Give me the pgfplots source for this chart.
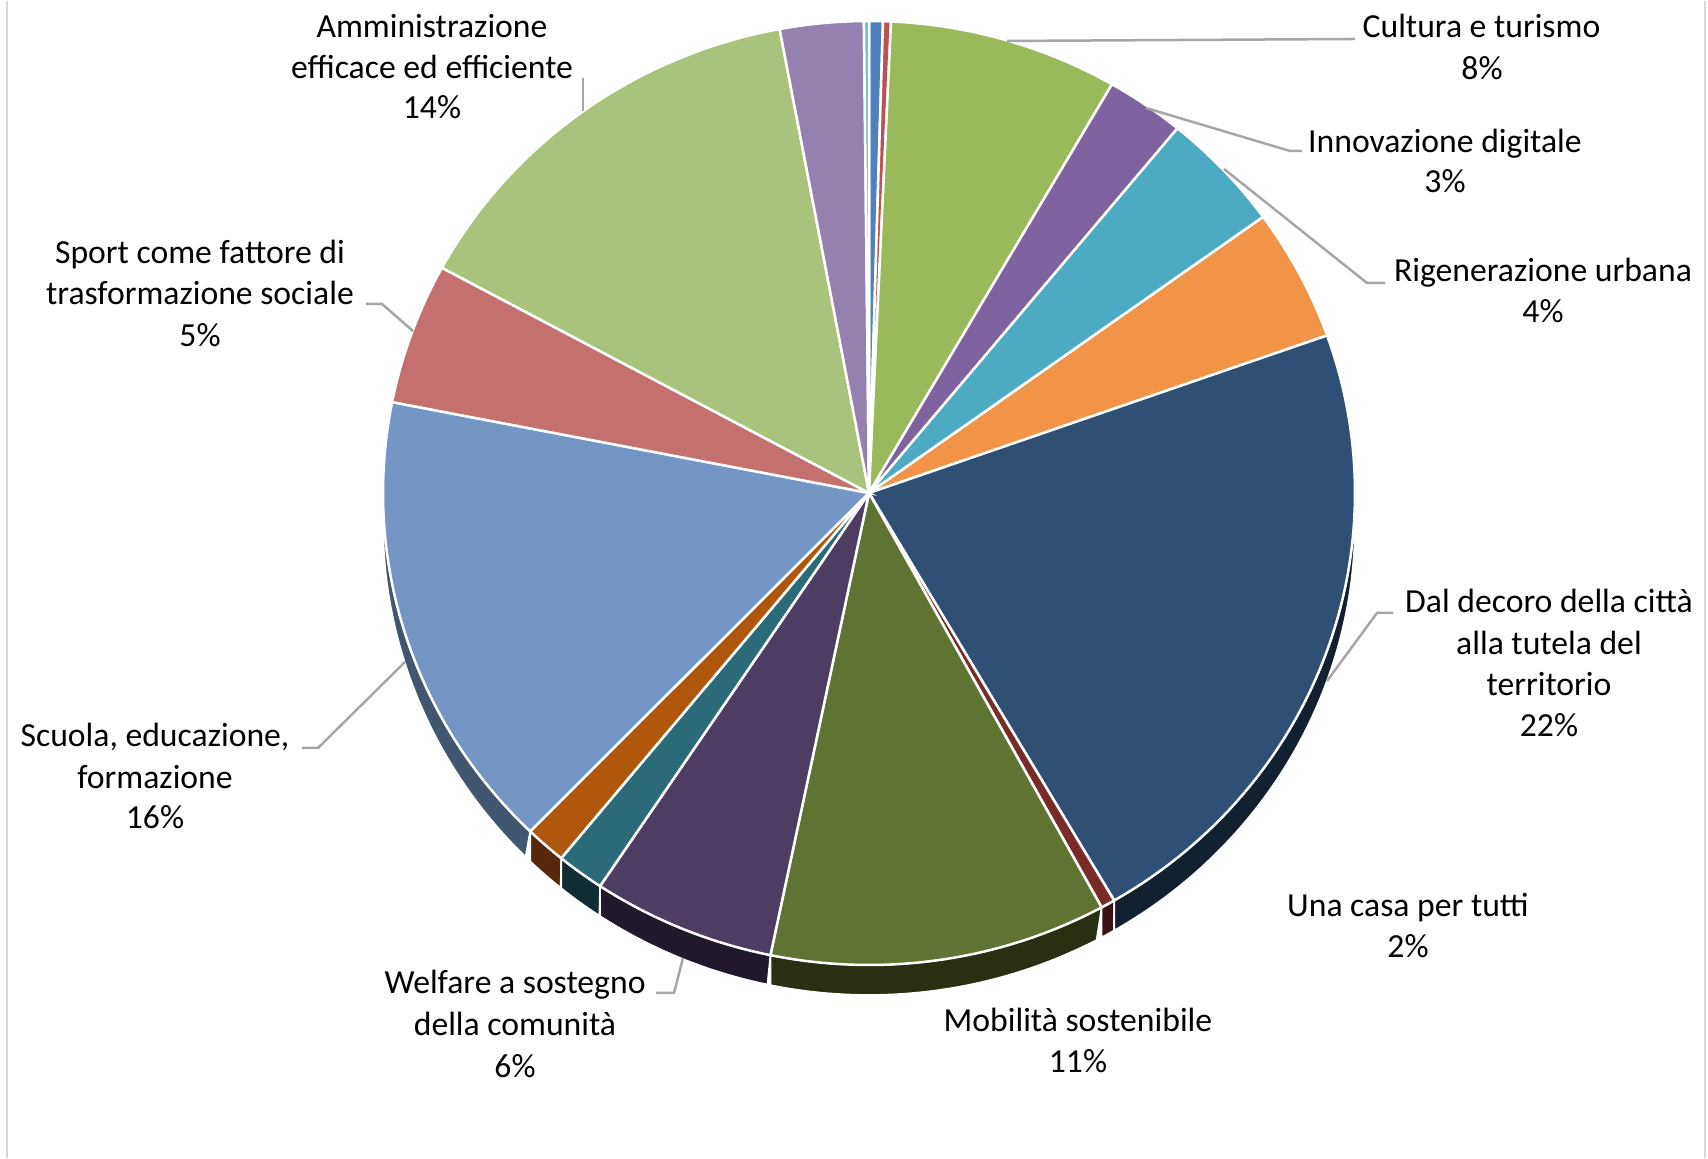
\documentclass[border=0pt]{standalone}
\usepackage{pgfplots}
\pgfplotsset{compat=1.18}
\usepackage{fontspec}
\setmainfont{Carlito}

% top-face colours
\definecolor{cBlue}{HTML}{4F81BD}
\definecolor{cRed}{HTML}{C0504D}
\definecolor{cGreen}{HTML}{9AB95A}
\definecolor{cPurple}{HTML}{7F63A0}
\definecolor{cAqua}{HTML}{4CAAC3}
\definecolor{cOrange}{HTML}{F19447}
\definecolor{cDBlue}{HTML}{2F4F74}
\definecolor{cDRed}{HTML}{772C2A}
\definecolor{cOlive}{HTML}{5F7432}
\definecolor{cDPurple}{HTML}{4E3D62}
\definecolor{cDAqua}{HTML}{2B6A78}
\definecolor{cDOrange}{HTML}{B0570E}
\definecolor{cLBlue}{HTML}{7396C4}
\definecolor{cLRed}{HTML}{C4706E}
\definecolor{cLGreen}{HTML}{A9C27C}
\definecolor{cLPurple}{HTML}{9581B0}
\definecolor{cLAqua}{HTML}{6DBCD0}
% side colours
\definecolor{sDBlue}{HTML}{13202F}
\definecolor{sDRed}{HTML}{3A1414}
\definecolor{sOlive}{HTML}{282F12}
\definecolor{sDPurple}{HTML}{21182B}
\definecolor{sDAqua}{HTML}{0F2D33}
\definecolor{sDOrange}{HTML}{57290A}
\definecolor{sLBlue}{HTML}{415670}
\definecolor{leader}{HTML}{A6A6A6}
\definecolor{frame}{HTML}{D9D9D9}

\def\cx{869}\def\cy{665}\def\rx{486}\def\ry{472}\def\dep{30}

% top face of a slice: start and end angle (degrees, counter-clockwise from 3 o'clock)
\newcommand{\slice}[3]{%
  \addplot[fill=#1, draw=white, line width=0.75pt, domain=#2:#3, samples=60, variable=\a]
    ({\cx+\rx*cos(\a)},{\cy+\ry*sin(\a)}) -- (axis cs:\cx,\cy) -- cycle;}
% visible rim (side) of a slice
\newcommand{\side}[3]{%
  \addplot[fill=#1, draw=white, line width=0.5pt, domain=0:2, samples=121, variable=\s]
    ({\cx+\rx*cos((#2)+((#3)-(#2))*(1-abs(1-\s)))},
     {\cy+\ry*sin((#2)+((#3)-(#2))*(1-abs(1-\s)))-\dep*(\s>1)}) -- cycle;}

\tikzset{lbl/.style={anchor=base, inner sep=0pt, font=\fontsize{10.1}{12.4}\selectfont},
         ld/.style={draw=leader, line width=0.75pt}}

\begin{document}
\begin{tikzpicture}
\begin{axis}[x=0.3pt, y=0.3pt, xmin=0, xmax=1708, ymin=0, ymax=1157,
  hide axis, clip=false]
\path (axis cs:0,0) rectangle (axis cs:1708,1157);
\draw[frame, line width=0.6pt] (axis cs:7,0) -- (axis cs:7,1157);
\draw[frame, line width=0.6pt] (axis cs:1705,0) -- (axis cs:1705,1157);

% ---- sides (front half only) ----
\side{sLBlue}{-180}{-134.2}
\side{sDOrange}{-134.2}{-129.3}
\side{sDAqua}{-129.3}{-123.6}
\side{sDPurple}{-123.6}{-101.7}
\side{sOlive}{-101.7}{-61.4}
\side{sDRed}{-61.4}{-59.7}
\side{sDBlue}{-59.7}{0}

% ---- top faces: shares (clockwise from 12 o'clock) ----
\slice{cBlue}{88.35}{90}        % 0.46%
\slice{cRed}{87.4}{88.35}       % 0.26%
\slice{cGreen}{60}{87.4}        % Cultura e turismo 7.6%
\slice{cPurple}{50.6}{60}       % Innovazione digitale 2.6%
\slice{cAqua}{35.8}{50.6}       % Rigenerazione urbana 4.1%
\slice{cOrange}{19.5}{35.8}     % 4.5%
\slice{cDBlue}{-59.7}{19.5}     % Dal decoro ... 22%
\slice{cDRed}{-61.4}{-59.7}     % Una casa per tutti
\slice{cOlive}{-101.7}{-61.4}   % Mobilita sostenibile 11.2%
\slice{cDPurple}{-123.6}{-101.7}% Welfare 6.1%
\slice{cDAqua}{-129.3}{-123.6}  % 1.6%
\slice{cDOrange}{-134.2}{-129.3}% 1.4%
\slice{cLBlue}{-191.1}{-134.2}  % Scuola 15.8%
\slice{cLRed}{-208.5}{-191.1}   % Sport 4.8%
\slice{cLGreen}{-259.4}{-208.5} % Amministrazione 14.1%
\slice{cLPurple}{-269.4}{-259.4}% 2.8%
\slice{cLAqua}{-270}{-269.4}    % 0.2%

% ---- leader lines ----
\draw[ld] (axis cs:1007,1117) -- (axis cs:1355,1119);
\draw[ld] (axis cs:1146,1050) -- (axis cs:1290,1007) -- (axis cs:1302,1007);
\draw[ld] (axis cs:1224,989) -- (axis cs:1367,875) -- (axis cs:1385,875);
\draw[ld] (axis cs:1327,477) -- (axis cs:1377,545) -- (axis cs:1393,545);
\draw[ld] (axis cs:683,200) -- (axis cs:674,165) -- (axis cs:656,165);
\draw[ld] (axis cs:405,496) -- (axis cs:318,410) -- (axis cs:302,410);
\draw[ld] (axis cs:413,827) -- (axis cs:382,854) -- (axis cs:366,854);
\draw[ld] (axis cs:583,1047) -- (axis cs:583,1080);

% ---- labels ----
\node[lbl] at (axis cs:1481.5,1120) {Cultura e turismo};
\node[lbl] at (axis cs:1482,1078) {8\%};
\node[lbl] at (axis cs:1445,1005) {Innovazione digitale};
\node[lbl] at (axis cs:1445,965) {3\%};
\node[lbl] at (axis cs:1543,876) {Rigenerazione urbana};
\node[lbl] at (axis cs:1543,835) {4\%};
\node[lbl] at (axis cs:1549,545) {Dal decoro della città};
\node[lbl] at (axis cs:1549,503) {alla tutela del};
\node[lbl] at (axis cs:1549,462) {territorio};
\node[lbl] at (axis cs:1549,421) {22\%};
\node[lbl] at (axis cs:1408,241) {Una casa per tutti};
\node[lbl] at (axis cs:1408,200) {2\%};
\node[lbl] at (axis cs:1078,126) {Mobilità sostenibile};
\node[lbl] at (axis cs:1078,85) {11\%};
\node[lbl] at (axis cs:515,164) {Welfare a sostegno};
\node[lbl] at (axis cs:515,122) {della comunità};
\node[lbl] at (axis cs:515,80) {6\%};
\node[lbl] at (axis cs:155,411) {Scuola, educazione,};
\node[lbl] at (axis cs:155,369) {formazione};
\node[lbl] at (axis cs:155,329) {16\%};
\node[lbl] at (axis cs:200,894) {Sport come fattore di};
\node[lbl] at (axis cs:200,853) {trasformazione sociale};
\node[lbl] at (axis cs:200,811) {5\%};
\node[lbl] at (axis cs:432,1120) {Amministrazione};
\node[lbl] at (axis cs:432,1079) {efficace ed efficiente};
\node[lbl] at (axis cs:432,1039) {14\%};
\end{axis}
\end{tikzpicture}
\end{document}
